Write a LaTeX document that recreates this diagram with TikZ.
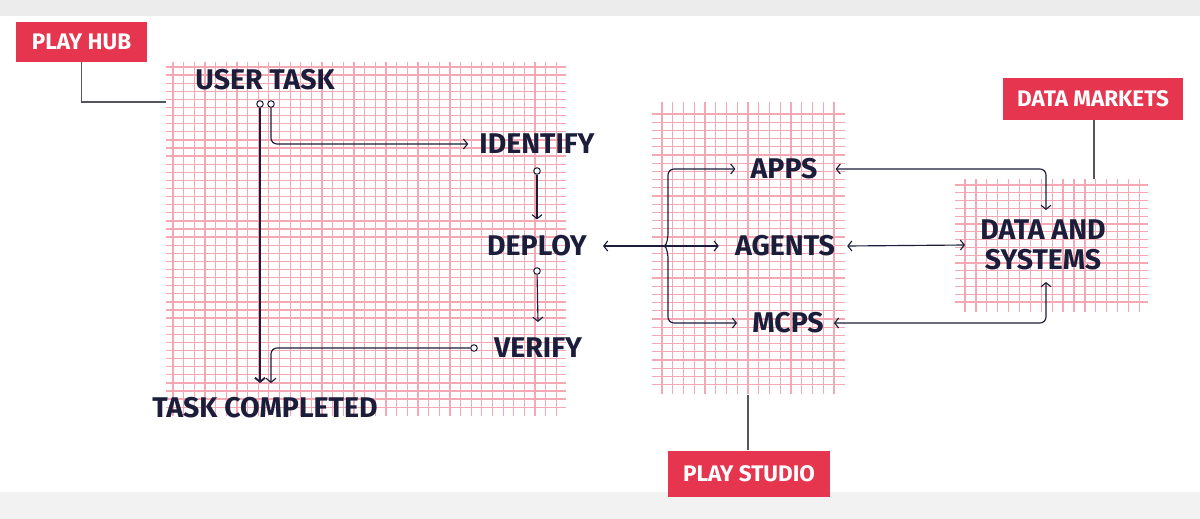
\documentclass[tikz,border=0pt]{standalone}
\usepackage{fontspec}
\setmainfont{Fira Sans}
\usetikzlibrary{arrows.meta,calc}
\definecolor{navy}{RGB}{28,29,58}
\definecolor{tagred}{RGB}{230,53,78}
\definecolor{gridpink}{RGB}{244,168,179}
\definecolor{labgray}{RGB}{85,85,95}
\definecolor{bandgray}{RGB}{236,236,236}
\begin{document}
\begin{tikzpicture}[x=1pt,y=-1pt,
  >={Straight Barb[length=4pt,width=10pt]},
  txt/.style={inner sep=0pt, text=navy, font=\bfseries\fontsize{28.5}{30}\selectfont},
  tag/.style={fill=tagred, text=white, inner sep=0pt, font=\bfseries\fontsize{22.5}{24}\selectfont},
  gline/.style={draw=gridpink, line width=1.25pt},
  flow/.style={draw=navy, line width=1.15pt, rounded corners=6pt},
  thick flow/.style={draw=navy, line width=1.9pt},
  dotc/.style={circle, draw=navy, fill=white, line width=1pt, inner sep=0pt, minimum size=6.5pt},
  lab/.style={draw=labgray, line width=1.1pt}
]
\useasboundingbox (0,0) rectangle (1200,519);
\fill[white] (0,0) rectangle (1200,519);
\fill[bandgray] (0,0) rectangle (1200,16);
\fill[bandgray!70] (0,492) rectangle (1200,519);

% grids
\foreach \i in {0,...,36} \draw[gline] ({173+10.65*\i},62) -- ({173+10.65*\i},416);
\foreach \j in {0,...,42} \draw[gline] (166,{67+8.1*\j}) -- (566,{67+8.1*\j});
\foreach \i in {0,...,16} \draw[gline] ({662+10.75*\i},102) -- ({662+10.75*\i},394);
\foreach \j in {0,...,33} \draw[gline] (652,{114+8.2*\j}) -- (845,{114+8.2*\j});
\foreach \i in {0,...,16} \draw[gline] ({965+10.9*\i},179) -- ({965+10.9*\i},312);
\foreach \j in {0,...,15} \draw[gline] (955,{185+7.8*\j}) -- (1148,{185+7.8*\j});

% tags
\node[tag, minimum width=131pt, minimum height=40pt] (ph) at (81.5,42) {PLAY HUB};
\node[tag, minimum width=180pt, minimum height=42pt] (dm) at (1093,99) {DATA MARKETS};
\node[tag, minimum width=162pt, minimum height=46pt] (ps) at (749,473.5) {PLAY STUDIO};

% grid attachment points
\coordinate (g1) at (166,102);
\coordinate (g2) at (748,395);
\coordinate (g3) at (1094,179);
\draw[lab] (ph) |- (g1);
\draw[lab] (g2) -- (g2 |- ps.north);
\draw[lab] (dm.south -| g3) -- (g3);

% texts
\node[txt] (ut) at (265,80) {USER TASK};
\node[txt] (id) at (537,144) {IDENTIFY};
\node[txt] (dp) at (537,246) {DEPLOY};
\node[txt] (vf) at (538,348) {VERIFY};
\node[txt] (tc) at (265,408) {TASK COMPLETED};
\node[txt] (ap) at (784,169) {APPS};
\node[txt] (ag) at (785,246) {AGENTS};
\node[txt] (mc) at (788,323) {MCPS};
\node[txt, align=center] (ds) at (1043,245) {DATA AND\\SYSTEMS};

% start dots
\node[dotc] (d1) at (260,104) {};
\node[dotc] (d2) at (271,104) {};
\node[dotc] (d3) at (537,171) {};
\node[dotc] (d4) at (537,271) {};
\node[dotc] (d5) at (474,348) {};

% arrow ends
\coordinate (e1) at (260,383);
\coordinate (e5) at (271,383);
\coordinate (dsT) at (1046,210);
\coordinate (dsB) at (1046,282);
\coordinate (bk) at (664,246);
\coordinate (bt) at (668,169);
\coordinate (bb) at (668,323);

% left flow
\draw[thick flow,->] (d1) -- (e1);
\draw[flow,->] (d2) |- ([xshift=-11pt]id.west);
\draw[flow,->] (d3) -- ([yshift=16pt]dp.north);
\draw[flow,->] (d4) -- ([yshift=16pt]vf.north);
\draw[flow,->] (d5) -| (e5);

% middle
\draw[flow,<->] ([xshift=16pt]dp.east) -- ([xshift=-16pt]ag.west);
\draw[flow,->] (bk) to[out=0,in=90] ($(bk -| bt)+(0,-7)$) -- (bt) -- ([xshift=-15pt]ap.west);
\draw[flow,->] (bk) to[out=0,in=-90] ($(bk -| bb)+(0,7)$) -- (bb) -- ([xshift=-15pt]mc.west);

% right
\draw[flow,<->] ([xshift=18pt]ap.east) -| (dsT);
\draw[flow,<->] ([xshift=12pt]ag.east) -- ([xshift=-15pt]ds.west);
\draw[flow,<->] ([xshift=10pt]mc.east) -| (dsB);
\end{tikzpicture}
\end{document}
